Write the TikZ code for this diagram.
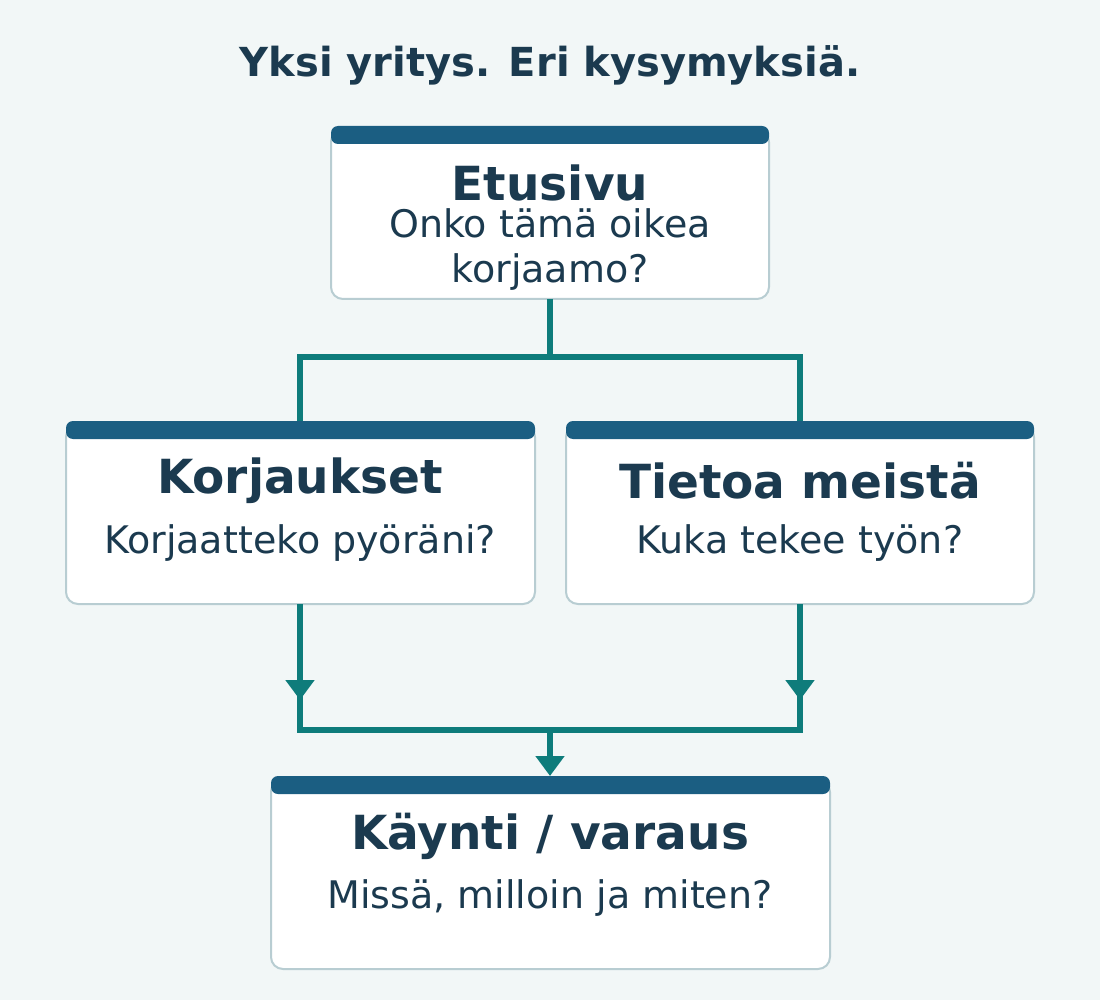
\documentclass[tikz,border=0pt]{standalone}
\usepackage{fontspec}
\setmainfont{DejaVu Sans}
\usetikzlibrary{arrows.meta}
\definecolor{bg}{HTML}{F2F7F7}
\definecolor{bar}{HTML}{1B5E82}
\definecolor{ink}{HTML}{1B3A4F}
\definecolor{teal}{HTML}{0E7C7B}
\definecolor{edge}{HTML}{B8CDD2}
\begin{document}
\begin{tikzpicture}[x=1pt,y=-1pt,
  card/.style={draw=edge,line width=2pt,fill=white,rounded corners=12pt},
  topbar/.style={fill=bar,rounded corners=7pt},
  ttl/.style={text=ink,font=\fontsize{47}{52}\selectfont\bfseries},
  sub/.style={text=ink,font=\fontsize{38}{45}\selectfont,align=center},
  conn/.style={draw=teal,line width=5.5pt},
  tip/.style={-{Triangle[length=20pt,width=28pt]}}]
\useasboundingbox (0,0) rectangle (1100,1000);
\fill[bg] (0,0) rectangle (1100,1000);
\node[text=ink,font=\fontsize{40}{46}\selectfont\bfseries] (title) at (550,65) {Yksi yritys. Eri kysymyksiä.};
% cards
\draw[card] (331,130) rectangle (769,299);
\fill[topbar] (331,126) rectangle (769,144);
\node[ttl,inner sep=0pt] (et) at (550,183) {Etusivu};
\node[sub,inner sep=0pt] (ets) at (550,250) {Onko tämä oikea\\korjaamo?};
\draw[card] (66,425) rectangle (535,604);
\fill[topbar] (66,421) rectangle (535,439);
\node[ttl] (ko) at (300,481) {Korjaukset};
\node[sub] (kos) at (300,543) {Korjaatteko pyöräni?};
\draw[card] (566,425) rectangle (1034,604);
\fill[topbar] (566,421) rectangle (1034,439);
\node[ttl] (ti) at (800,481) {Tietoa meistä};
\node[sub] (tis) at (800,543) {Kuka tekee työn?};
\draw[card] (271,780) rectangle (830,969);
\fill[topbar] (271,776) rectangle (830,794);
\node[ttl] (ka) at (550,836) {Käynti / varaus};
\node[sub] (kas) at (550,898) {Missä, milloin ja miten?};
% connectors
\coordinate (a0) at (550,299); \coordinate (a1) at (550,357);
\coordinate (l1) at (300,357); \coordinate (r1) at (800,357);
\coordinate (l2) at (300,421); \coordinate (r2) at (800,421);
\draw[conn] (a0) -- (a1);
\draw[conn] (l2) -- (l1) -- (r1) -- (r2);
\coordinate (lb0) at (300,604); \coordinate (lb1) at (300,700);
\coordinate (rb0) at (800,604); \coordinate (rb1) at (800,700);
\coordinate (lb2) at (300,730); \coordinate (rb2) at (800,730);
\coordinate (m0) at (550,730); \coordinate (m1) at (550,776);
\draw[conn,tip] (lb0) -- (lb1);
\draw[conn,tip] (rb0) -- (rb1);
\draw[conn] (300,690) -- (lb2) -- (rb2) -- (800,690);
\draw[conn,tip] (m0) -- (m1);
\end{tikzpicture}
\end{document}
